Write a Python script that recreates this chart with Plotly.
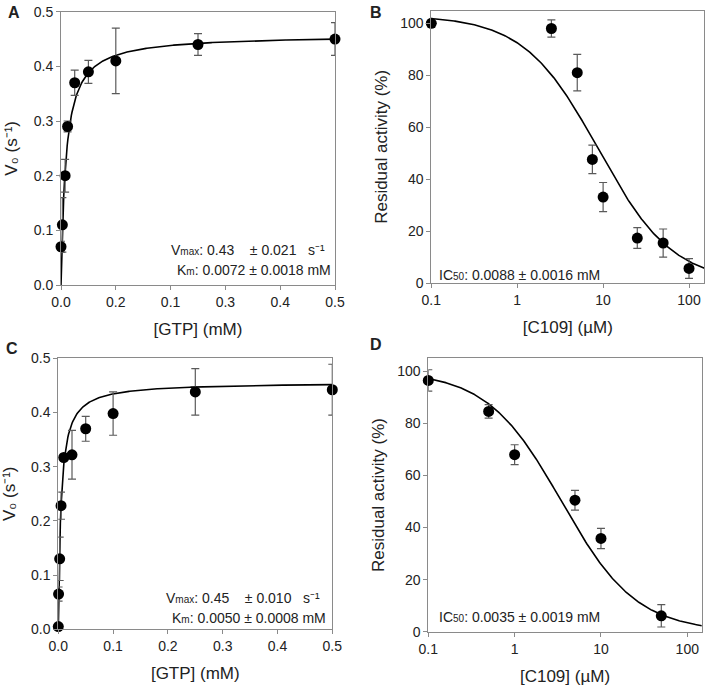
import numpy as np
import plotly.graph_objects as go

# ---------------- data ----------------
# Panel A
a_x = [0.0, 0.0025, 0.0075, 0.012, 0.025, 0.05, 0.1, 0.25, 0.5]
a_y = [0.07, 0.11, 0.20, 0.29, 0.37, 0.39, 0.41, 0.44, 0.45]
a_err = [0.01, 0.05, 0.03, 0.01, 0.023, 0.021, 0.06, 0.02, 0.03]
a_vmax_fit, a_km_fit = 0.458, 0.009
a_xticks = [0.0, 0.1, 0.2, 0.3, 0.4, 0.5]
a_xticktext = ["0.0", "0.2", "0.1", "0.3", "0.4", "0.5"]

# Panel B
b_x = [0.1, 2.5, 5, 7.5, 10, 25, 50, 100]
b_y = [100, 98, 81, 47.6, 33.1, 17.3, 15.4, 5.6]
b_err = [1.5, 3.3, 7, 5.5, 5.6, 4, 5.4, 3.8]
b_top, b_ic50, b_hill = 103, 8.8, 1.0

# Panel C
c_x = [0.0, 0.0005, 0.0025, 0.005, 0.01, 0.025, 0.05, 0.1, 0.25, 0.5]
c_y = [0.005, 0.065, 0.13, 0.228, 0.317, 0.322, 0.37, 0.398, 0.438, 0.442]
c_err = [0.004, 0.013, 0.04, 0.025, 0.005, 0.045, 0.023, 0.04, 0.043, 0.047]
c_vmax_fit, c_km_fit = 0.456, 0.005

# Panel D
d_x = [0.1, 0.5, 1, 5, 10, 50]
d_y = [96.5, 84.6, 68, 50.5, 35.8, 6.1]
d_err = [4.1, 2.6, 3.8, 3.8, 3.9, 4.3]
d_top, d_ic50, d_hill = 100, 3.5, 1.0

log_ticks = [0.1, 1, 10, 100]
log_ticktext = ["0.1", "1", "10", "100"]

# ---------------- figure ----------------
W, H = 708, 689
FONT = "Arial, Liberation Sans, sans-serif"
AXC = "#8a8a8a"
TXT = "#222222"

fig = go.Figure()

def px_dom(x0, x1):
    return [x0 / W, x1 / W]

def py_dom(top, bottom):
    return [1 - bottom / H, 1 - top / H]

def add_panel(xa, ya, x, y, err, cx, cy):
    fig.add_trace(go.Scatter(x=cx, y=cy, mode="lines",
                             line=dict(color="black", width=1.6),
                             xaxis=xa, yaxis=ya, showlegend=False,
                             hoverinfo="skip", cliponaxis=True))
    fig.add_trace(go.Scatter(x=x, y=y, mode="markers",
                             marker=dict(color="black", size=11),
                             error_y=dict(type="data", array=err, visible=True,
                                          color="#5a5a5a", thickness=1.2, width=4),
                             xaxis=xa, yaxis=ya, showlegend=False,
                             cliponaxis=False))

# curves from fitted parameters
ax_curve = np.linspace(0, 0.5, 400)
ay_curve = a_vmax_fit * ax_curve / (a_km_fit + ax_curve)
cx_curve = np.linspace(0, 0.5, 400)
cy_curve = c_vmax_fit * cx_curve / (c_km_fit + cx_curve)
bx_curve = np.logspace(-1, 2.18, 300)
by_curve = b_top / (1 + (bx_curve / b_ic50) ** b_hill)
dx_curve = np.logspace(-1, 2.17, 300)
dy_curve = d_top / (1 + (dx_curve / d_ic50) ** d_hill)

add_panel("x", "y", a_x, a_y, a_err, ax_curve, ay_curve)
add_panel("x2", "y2", b_x, b_y, b_err, bx_curve, by_curve)
add_panel("x3", "y3", c_x, c_y, c_err, cx_curve, cy_curve)
add_panel("x4", "y4", d_x, d_y, d_err, dx_curve, dy_curve)

tickfont = dict(family=FONT, size=14, color=TXT)
titlefont = dict(family=FONT, size=17, color=TXT)

common = dict(showline=True, linecolor=AXC, linewidth=1, mirror=True,
              ticks="outside", ticklen=4, tickcolor=AXC, showgrid=False,
              zeroline=False, tickfont=tickfont, automargin=False)

gtp_title = dict(text="[GTP] (mM)", font=titlefont, standoff=14)
c109_title = dict(text="[C109] (\u00b5M)", font=titlefont, standoff=14)
v0_title = dict(text="V\u2080 (s\u207b\u00b9)", font=titlefont, standoff=11)
res_title = dict(text="Residual activity (%)", font=titlefont, standoff=8)

fig.update_layout(
    width=W, height=H, margin=dict(l=0, r=0, t=0, b=0),
    paper_bgcolor="white", plot_bgcolor="white",
    font=dict(family=FONT),
    xaxis=dict(domain=px_dom(61, 335), range=[0, 0.5], tickvals=a_xticks,
               ticktext=a_xticktext, title=gtp_title, anchor="y", **common),
    yaxis=dict(domain=py_dom(11.7, 285), range=[0, 0.5], dtick=0.1,
               tickformat=".1f", title=v0_title, anchor="x", **common),
    xaxis2=dict(domain=px_dom(431.3, 704.3), type="log", range=[-1, 2.178],
                tickvals=log_ticks, ticktext=log_ticktext, title=c109_title,
                anchor="y2", **common),
    yaxis2=dict(domain=py_dom(10.7, 283), range=[0, 104.85], dtick=20,
                title=res_title, anchor="x2", **common),
    xaxis3=dict(domain=px_dom(58.3, 332.3), range=[0, 0.5], dtick=0.1,
                tickformat=".1f", title=gtp_title, anchor="y3", **common),
    yaxis3=dict(domain=py_dom(358.3, 629.3), range=[0, 0.5], dtick=0.1,
                tickformat=".1f", title=v0_title, anchor="x3", **common),
    xaxis4=dict(domain=px_dom(428.3, 701.7), type="log", range=[-1, 2.167],
                tickvals=log_ticks, ticktext=log_ticktext, title=c109_title,
                anchor="y4", **common),
    yaxis4=dict(domain=py_dom(358.3, 631.7), range=[0, 105.0], dtick=20,
                title=res_title, anchor="x4", **common),
)

def ann(text, px, py, xanchor="left", size=14, bold=False):
    fig.add_annotation(text=f"<b>{text}</b>" if bold else text,
                       x=px / W, y=1 - py / H, xref="paper", yref="paper",
                       xanchor=xanchor, yanchor="middle", showarrow=False,
                       font=dict(family=FONT, size=size, color=TXT))

small = "<span style='font-size:10px'>{}</span>"
# panel letters
ann("A", 6, 12, size=16, bold=True)
ann("B", 368, 12, size=16, bold=True)
ann("C", 4, 349, size=16, bold=True)
ann("D", 368, 344, size=16, bold=True)

# fit annotations
ann("V" + small.format("max") + ": 0.43    \u00b1 0.021   s\u207b\u00b9", 327, 250, xanchor="right")
ann("K" + small.format("m") + ": 0.0072 \u00b1 0.0018 mM", 333, 270, xanchor="right")
ann("IC" + small.format("50") + ": 0.0088 \u00b1 0.0016 mM", 437, 275)
ann("V" + small.format("max") + ": 0.45    \u00b1 0.010   s\u207b\u00b9", 322, 598, xanchor="right")
ann("K" + small.format("m") + ": 0.0050 \u00b1 0.0008 mM", 328, 618, xanchor="right")
ann("IC" + small.format("50") + ": 0.0035 \u00b1 0.0019 mM", 437, 617)

fig.write_html("out.html", config={"displayModeBar": False},
               post_script="document.body.style.margin='0';document.body.style.overflow='hidden';")
